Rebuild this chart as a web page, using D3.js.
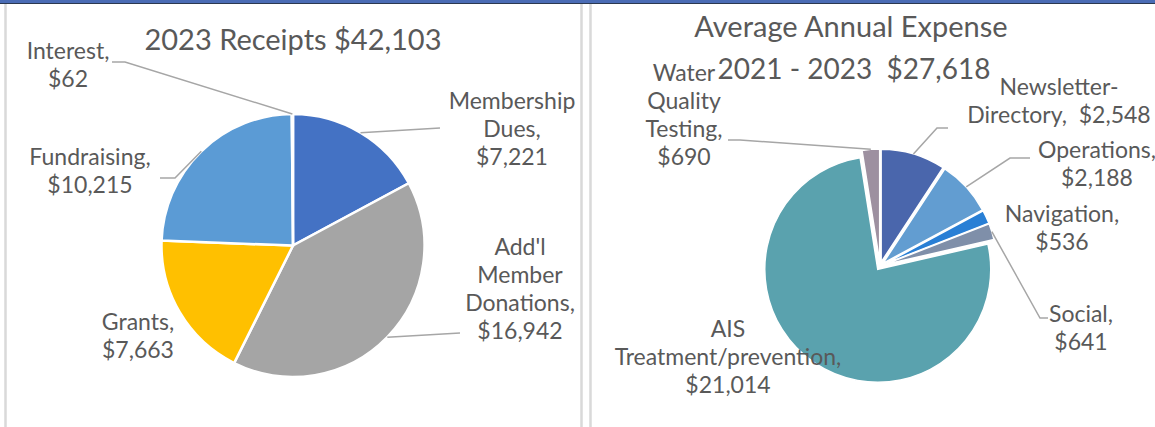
<!DOCTYPE html>
<html>
<head>
<meta charset="utf-8">
<script src="https://cdn.jsdelivr.net/npm/d3@7"></script>
<style>
  body { margin: 0; background: #fff; }
  svg { display: block; font-family: Lato, "Open Sans", sans-serif; }
  .lbl { fill: #595959; font-size: 23px; white-space: pre; }
  .ttl { fill: #595959; font-size: 29px; white-space: pre; }
</style>
</head>
<body>
<div id="chart"></div>
<script>
const W = 1155, H = 427;

// receipts
const receiptNames = ["Membership Dues", "Add'l Member Donations", "Grants", "Fundraising", "Interest"];
const receiptValues = [7221, 16942, 7663, 10215, 62];
const receiptLines = [["Membership", "Dues,"], ["Add'l", "Member", "Donations,"], ["Grants,"], ["Fundraising,"], ["Interest,"]];
const receiptColors = ["#4472C4", "#A5A5A5", "#FFC000", "#5B9BD5", "#ED7D31"];

// expenses
const expenseNames = ["Newsletter-Directory", "Operations", "Navigation", "Social", "AIS Treatment/prevention", "Water Quality Testing"];
const expenseValues = [2548, 2188, 536, 641, 21014, 690];
const expenseLines = [["Newsletter-", "Directory, "], ["Operations,"], ["Navigation,"], ["Social,"], ["AIS", "Treatment/prevention,"], ["Water", "Quality", "Testing,"]];
const expenseInline = [true, false, false, false, false, false];
const expenseColors = ["#4A66AC", "#629DD1", "#297FD5", "#7F8FA9", "#5AA2AE", "#9D90A0"];

const fmt = d3.format("$,");
const lineH = 28;

const svg = d3.select("#chart").append("svg")
    .attr("width", W)
    .attr("height", H);

// frame
svg.append("rect").attr("x", 0).attr("y", 0).attr("width", W).attr("height", 3).attr("fill", "#4a6cb5");
svg.append("line").attr("x1", 0).attr("x2", W).attr("y1", 3.5).attr("y2", 3.5).attr("stroke", "#2b3850").attr("stroke-width", 1);
[5.5, 581.5, 590.5].forEach(x => {
    svg.append("line").attr("x1", x).attr("x2", x).attr("y1", 4).attr("y2", H)
        .attr("stroke", "#d9d9d9").attr("stroke-width", 2.5);
});

function drawPie(opts) {
    const g = svg.append("g").attr("transform", `translate(${opts.cx},${opts.cy})`);
    const pie = d3.pie().sort(null).value(d => d)(opts.values);
    const arc = d3.arc().innerRadius(0).outerRadius(opts.r);

    g.selectAll("path.slice")
        .data(pie)
        .enter().append("path")
        .attr("class", "slice")
        .attr("d", arc)
        .attr("transform", d => {
            const a = (d.startAngle + d.endAngle) / 2;
            return `translate(${Math.sin(a) * opts.explode},${-Math.cos(a) * opts.explode})`;
        })
        .attr("fill", (d, i) => opts.colors[i])
        .attr("stroke", "#fff")
        .attr("stroke-width", opts.strokeW);

    // leader lines
    pie.forEach((d, i) => {
        const lay = opts.layout[i];
        if (!lay.leader) return;
        const a = (d.startAngle + d.endAngle) / 2;
        const rr = opts.r + opts.explode;
        const p0 = [opts.cx + Math.sin(a) * rr, opts.cy - Math.cos(a) * rr];
        const pts = [p0].concat(lay.leader);
        svg.append("path")
            .attr("d", d3.line()(pts))
            .attr("fill", "none")
            .attr("stroke", "#a6a6a6")
            .attr("stroke-width", 1.5);
    });

    // labels
    pie.forEach((d, i) => {
        const lay = opts.layout[i];
        let lines = opts.lines[i].slice();
        if (opts.inline && opts.inline[i]) lines[lines.length - 1] += " " + fmt(d.data);
        else lines.push(fmt(d.data));
        const t = svg.append("text")
            .attr("class", "lbl")
            .attr("text-anchor", "middle")
            .attr("x", lay.x)
            .attr("y", lay.y);
        lines.forEach((s, k) => {
            t.append("tspan").attr("x", lay.x).attr("y", lay.y + k * lineH).text(s);
        });
    });
}

drawPie({
    cx: 293, cy: 245.5, r: 131.5, explode: 0, strokeW: 2.5,
    values: receiptValues, colors: receiptColors, lines: receiptLines,
    layout: [
        { x: 512, y: 109, leader: [[440, 128]] },
        { x: 520, y: 255, leader: [[460, 333]] },
        { x: 138, y: 330 },
        { x: 90, y: 165, leader: [[175, 178], [160, 178]] },
        { x: 68, y: 59, leader: [[125, 62], [112, 62]] }
    ]
});

drawPie({
    cx: 880, cy: 266, r: 113, explode: 4, strokeW: 1.5,
    values: expenseValues, colors: expenseColors, lines: expenseLines, inline: expenseInline,
    layout: [
        { x: 1059, y: 95, leader: [[937, 128], [948, 128]] },
        { x: 1097, y: 158, leader: [[1010, 158], [1030, 158]] },
        { x: 1062, y: 222 },
        { x: 1081, y: 322, leader: [[1040, 318], [1048, 318]] },
        { x: 728, y: 337 },
        { x: 684, y: 81, leader: [[740, 140], [728, 140]] }
    ]
});

// titles
svg.append("text").attr("class", "ttl").attr("text-anchor", "middle")
    .attr("x", 293).attr("y", 50).text("2023 Receipts $42,103");
svg.append("text").attr("class", "ttl").attr("text-anchor", "middle")
    .attr("x", 851).attr("y", 37).text("Average Annual Expense");
svg.append("text").attr("class", "ttl").attr("text-anchor", "middle")
    .attr("x", 854).attr("y", 79).style("font-size", "28px").text("2021 - 2023  $27,618");
</script>
</body>
</html>
